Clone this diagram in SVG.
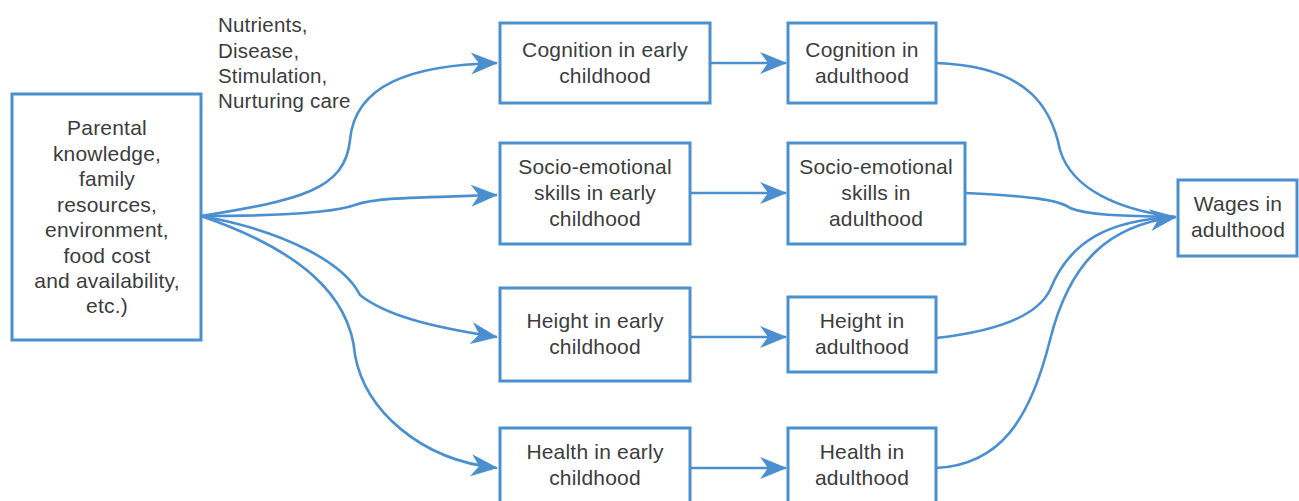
<svg xmlns="http://www.w3.org/2000/svg" width="1299" height="501" viewBox="0 0 1299 501">
<style>
.box{fill:#fff;stroke:#4a8fd0;stroke-width:3}
.t{font-family:"Liberation Sans",Arial,sans-serif;font-size:21px;letter-spacing:0.2px;fill:#3c3c3c;text-anchor:middle}
.l{font-family:"Liberation Sans",Arial,sans-serif;font-size:20.5px;letter-spacing:0.2px;fill:#3c3c3c}
.c{fill:none;stroke:#4a8fd0;stroke-width:2.6}
</style>
<defs>
<marker id="ah" markerUnits="userSpaceOnUse" markerWidth="30" markerHeight="26" viewBox="-28 -13 30 26" refX="0" refY="0" orient="auto">
<path d="M1,0 L-26,-11 L-18,0 L-26,11 Z" fill="#4a8fd0"/>
</marker>
</defs>
<rect width="1299" height="501" fill="#fff"/>
<g id="connectors">
<path class="c" marker-end="url(#ah)" d="M201,216 C300,200 345,190 350,140 C355,85 410,65 497,63"/>
<path class="c" marker-end="url(#ah)" d="M201,216 C270,216 330,214 355,205 C375,198 400,198 497,195"/>
<path class="c" marker-end="url(#ah)" d="M201,216 C290,232 345,265 360,295 C385,315 430,327 497,337"/>
<path class="c" marker-end="url(#ah)" d="M201,216 C300,250 350,295 355,355 C365,410 420,460 497,468"/>
<path class="c" marker-end="url(#ah)" d="M710,63 L786,63"/>
<path class="c" marker-end="url(#ah)" d="M690,193 L786,193"/>
<path class="c" marker-end="url(#ah)" d="M690,337 L786,337"/>
<path class="c" marker-end="url(#ah)" d="M690,468 L786,468"/>
<path class="c" d="M936,63 C1030,66 1052,110 1060,150 C1072,190 1120,210 1175,217"/>
<path class="c" d="M965,193 C1030,196 1060,200 1070,208 C1090,216 1130,216 1175,217"/>
<path class="c" d="M936,338 C1010,330 1040,310 1050,290 C1070,240 1110,220 1175,217"/>
<path class="c" marker-end="url(#ah)" d="M936,468 C1000,465 1030,420 1050,340 C1070,260 1110,225 1176,217"/>
</g>
<g id="parental">
<rect class="box" x="12" y="94" width="189" height="246"/>
<text class="t" x="107" y="135">Parental</text>
<text class="t" x="107" y="160.5">knowledge,</text>
<text class="t" x="107" y="186">family</text>
<text class="t" x="107" y="211.5">resources,</text>
<text class="t" x="107" y="237">environment,</text>
<text class="t" x="107" y="262.5">food cost</text>
<text class="t" x="107" y="288">and availability,</text>
<text class="t" x="107" y="313">etc.)</text>
</g>
<g id="factors">
<text class="l" x="218" y="32">Nutrients,</text>
<text class="l" x="218" y="57.5">Disease,</text>
<text class="l" x="218" y="83">Stimulation,</text>
<text class="l" x="218" y="108">Nurturing care</text>
</g>
<g id="cog-early">
<rect class="box" x="500" y="23" width="210" height="80"/>
<text class="t" x="605" y="57">Cognition in early</text>
<text class="t" x="605" y="83">childhood</text>
</g>
<g id="cog-adult">
<rect class="box" x="788" y="23" width="148" height="80"/>
<text class="t" x="862" y="57">Cognition in</text>
<text class="t" x="862" y="83">adulthood</text>
</g>
<g id="socio-early">
<rect class="box" x="500" y="143" width="190" height="101"/>
<text class="t" x="595" y="174">Socio-emotional</text>
<text class="t" x="595" y="200">skills in early</text>
<text class="t" x="595" y="226">childhood</text>
</g>
<g id="socio-adult">
<rect class="box" x="788" y="143" width="177" height="101"/>
<text class="t" x="876" y="174">Socio-emotional</text>
<text class="t" x="876" y="200">skills in</text>
<text class="t" x="876" y="226">adulthood</text>
</g>
<g id="height-early">
<rect class="box" x="500" y="288" width="190" height="93"/>
<text class="t" x="595" y="328">Height in early</text>
<text class="t" x="595" y="354">childhood</text>
</g>
<g id="height-adult">
<rect class="box" x="788" y="297" width="148" height="75"/>
<text class="t" x="862" y="328">Height in</text>
<text class="t" x="862" y="354">adulthood</text>
</g>
<g id="health-early">
<rect class="box" x="500" y="428" width="190" height="80"/>
<text class="t" x="595" y="459">Health in early</text>
<text class="t" x="595" y="485">childhood</text>
</g>
<g id="health-adult">
<rect class="box" x="788" y="428" width="148" height="80"/>
<text class="t" x="862" y="459">Health in</text>
<text class="t" x="862" y="485">adulthood</text>
</g>
<g id="wages">
<rect class="box" x="1178" y="180" width="119" height="76"/>
<text class="t" x="1238" y="211">Wages in</text>
<text class="t" x="1238" y="237">adulthood</text>
</g>
</svg>
